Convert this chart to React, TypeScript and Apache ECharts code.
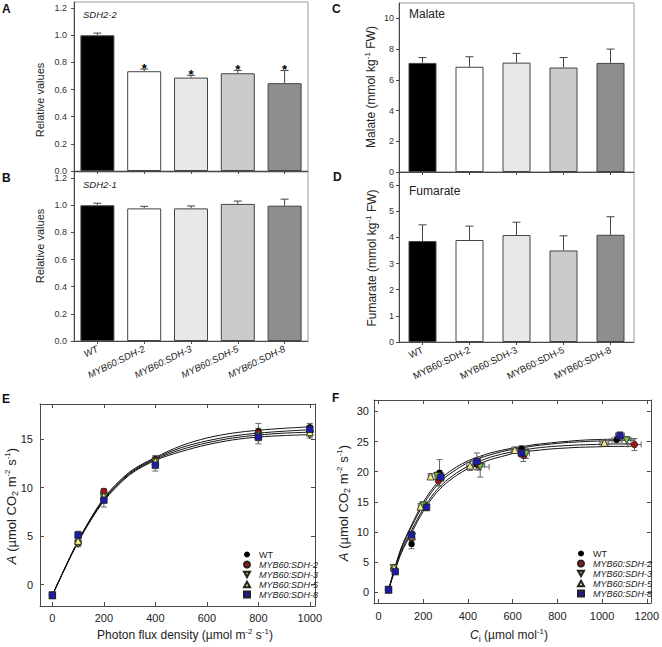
import React, { useEffect, useRef } from "react";
import * as echarts from "echarts";

const FONT = "'Liberation Sans', Arial, Helvetica, sans-serif";

// ---- categories / genotypes ----
const genotypes = ["WT", "MYB60:SDH-2", "MYB60:SDH-3", "MYB60:SDH-5", "MYB60:SDH-8"];
const barColors = ["#000000", "#ffffff", "#e8e8e8", "#cbcbcb", "#8e8e8e"];
const markerColors = ["#000000", "#a31515", "#7dc242", "#f2ee8a", "#1c1ca8"];
const markerSymbols = ["circle", "circle", "path://M0,0L10,0L5,9Z", "path://M5,0L10,9L0,9Z", "rect"];

// ---- panel A: SDH2-2 relative expression ----
const sdh22Values = [1.0, 0.735, 0.688, 0.72, 0.647];
const sdh22Errors = [0.016, 0.016, 0.017, 0.021, 0.094];
const sdh22Signif = [0, 1, 1, 1, 1];
// ---- panel B: SDH2-1 relative expression ----
const sdh21Values = [1.0, 0.977, 0.977, 1.01, 0.997];
const sdh21Errors = [0.015, 0.015, 0.018, 0.021, 0.048];
// ---- panel C: malate ----
const malateValues = [7.1, 6.85, 7.12, 6.8, 7.1];
const malateErrors = [0.35, 0.65, 0.6, 0.65, 0.9];
// ---- panel D: fumarate ----
const fumarateValues = [3.86, 3.9, 4.09, 3.5, 4.1];
const fumarateErrors = [0.62, 0.53, 0.49, 0.56, 0.69];

// tick labels
const relTicks = [0, 0.2, 0.4, 0.6, 0.8, 1.0, 1.2];
const malateTicks = [0, 2, 4, 6, 8, 10];
const fumarateTicks = [0, 1, 2, 3, 4, 5, 6];
const lightXTicks = [0, 200, 400, 600, 800, 1000];
const lightYTicks = [0, 5, 10, 15];
const ciXTicks = [0, 200, 400, 600, 800, 1000, 1200];
const ciYTicks = [0, 5, 10, 15, 20, 25, 30];

// ---- panel E: light response ----
const lightX = [0, 100, 200, 400, 800, 1000];
const lightWT = [-1.1, 4.3, 9.3, 12.9, 15.8, 16.2];
const lightSDH2 = [-1.1, 4.3, 9.6, 12.8, 15.6, 15.8];
const lightSDH3 = [-1.1, 4.2, 9.0, 12.6, 15.3, 15.4];
const lightSDH5 = [-1.1, 4.5, 9.1, 12.7, 15.4, 15.7];
const lightSDH8 = [-1.1, 5.1, 8.7, 12.3, 15.2, 16.0];
const lightErrWT = [0.2, 0.3, 0.5, 0.4, 0.8, 0.4];
const lightErrSDH2 = [0.2, 0.3, 0.3, 0.4, 0.5, 0.4];
const lightErrSDH3 = [0.2, 0.3, 0.4, 0.4, 0.5, 0.3];
const lightErrSDH5 = [0.2, 0.3, 0.4, 0.4, 0.5, 0.4];
const lightErrSDH8 = [0.2, 0.4, 0.7, 0.6, 0.7, 0.4];
// fitted curves
const lightCurveX = [0, 100, 200, 300, 400, 500, 600, 700, 800, 900, 1000];
const lightCurve1 = [-1.1, 4.5, 8.9, 11.6, 13.1, 14.3, 15.1, 15.6, 15.9, 16.1, 16.25];
const lightCurve2 = [-1.1, 4.5, 8.8, 11.5, 13.0, 14.1, 14.8, 15.3, 15.6, 15.8, 15.95];
const lightCurve3 = [-1.1, 4.4, 8.7, 11.4, 12.9, 13.9, 14.6, 15.1, 15.4, 15.6, 15.7];
const lightCurve4 = [-1.1, 4.4, 8.6, 11.3, 12.8, 13.7, 14.4, 14.9, 15.2, 15.35, 15.45];

// ---- panel F: CO2 response (Ci, A) ----
const ciWT = [45, 68, 148, 205, 273, 440, 640, 1065];
const aWT = [0.4, 3.8, 8.0, 14.3, 19.8, 21.2, 23.8, 25.3];
const ciSDH2 = [45, 70, 148, 208, 268, 450, 648, 1145];
const aSDH2 = [0.4, 3.9, 9.0, 14.2, 18.5, 21.1, 22.7, 24.5];
const ciSDH3 = [45, 68, 150, 200, 263, 455, 660, 1110];
const aSDH3 = [0.4, 4.0, 9.2, 14.4, 19.3, 20.8, 23.0, 25.2];
const ciSDH5 = [45, 69, 150, 188, 233, 410, 610, 1010];
const aSDH5 = [0.4, 4.1, 9.3, 14.2, 19.2, 21.0, 23.6, 24.8];
const ciSDH8 = [45, 75, 148, 215, 279, 440, 640, 1080];
const aSDH8 = [0.4, 3.4, 9.5, 14.1, 19.1, 21.7, 23.1, 26.0];
const aErrWT = [0.3, 0.3, 0.8, 0.6, 2.2, 0.8, 0.5, 0.5];
const aErrSDH2 = [0.3, 0.3, 0.5, 0.5, 0.8, 0.8, 1.0, 1.0];
const aErrSDH3 = [0.3, 0.3, 0.5, 0.6, 0.6, 1.7, 0.8, 0.6];
const aErrSDH5 = [0.3, 0.3, 0.5, 0.5, 0.5, 0.8, 0.5, 0.5];
const aErrSDH8 = [0.3, 0.3, 0.6, 0.6, 0.7, 1.4, 0.6, 0.6];
const ciErrWT = [5, 5, 8, 10, 10, 20, 15, 20];
const ciErrSDH2 = [5, 5, 8, 10, 10, 25, 15, 30];
const ciErrSDH3 = [5, 5, 8, 10, 10, 40, 15, 20];
const ciErrSDH5 = [5, 5, 8, 10, 10, 15, 15, 20];
const ciErrSDH8 = [5, 5, 8, 10, 10, 15, 15, 20];
const ciCurveX = [45, 100, 150, 200, 250, 300, 350, 400, 450, 500, 550, 600, 650, 700, 750, 800, 850, 900, 950, 1000, 1050, 1100, 1150];
const ciCurve1 = [0.4, 7.2, 11.3, 14.9, 17.6, 19.5, 20.8, 21.8, 22.5, 23.1, 23.55, 23.9, 24.2, 24.5, 24.7, 24.9, 25.05, 25.2, 25.3, 25.35, 25.4, 25.45, 25.5];
const ciCurve2 = [0.4, 7.0, 11.0, 14.5, 17.2, 19.1, 20.4, 21.5, 22.2, 22.8, 23.3, 23.7, 24.0, 24.3, 24.5, 24.7, 24.85, 24.95, 25.05, 25.1, 25.15, 25.2, 25.25];
const ciCurve3 = [0.4, 6.6, 10.4, 13.8, 16.5, 18.4, 19.8, 20.9, 21.7, 22.4, 22.9, 23.3, 23.6, 23.9, 24.1, 24.25, 24.35, 24.45, 24.5, 24.55, 24.6, 24.6, 24.65];
const ciCurve4 = [0.4, 6.3, 10.0, 13.4, 16.1, 18.0, 19.4, 20.5, 21.3, 22.0, 22.5, 23.0, 23.3, 23.5, 23.7, 23.85, 23.95, 24.05, 24.1, 24.15, 24.2, 24.2, 24.25];

const AXIS = "#4a4a4a";

function ln(x1: number, y1: number, x2: number, y2: number, color = "#333") {
  return { type: "line", shape: { x1, y1, x2, y2 }, style: { stroke: color, lineWidth: 1 } };
}

const barErrRender = (_p: any, api: any) => {
  const idx = api.value(0);
  const v = api.value(1);
  const e = api.value(2);
  const sig = api.value(3);
  const base = api.coord([idx, v]);
  const top = api.coord([idx, v + e]);
  const children: any[] = [
    ln(base[0], base[1], top[0], top[1], "#444"),
    ln(top[0] - 4, top[1], top[0] + 4, top[1], "#444"),
  ];
  if (sig) {
    children.push({
      type: "text",
      x: top[0],
      y: top[1] + 6,
      style: { text: "*", fontSize: 13, fontWeight: "bold", fontFamily: FONT, fill: "#000", align: "center", verticalAlign: "bottom" },
    });
  }
  return { type: "group", children };
};

const pointErrRender = (_p: any, api: any) => {
  const x = api.value(0);
  const y = api.value(1);
  const ey = api.value(2);
  const ex = api.value(3);
  const c = api.coord([x, y]);
  const col = "#666";
  const children: any[] = [];
  if (ey > 0) {
    const t = api.coord([x, y + ey]);
    const b = api.coord([x, y - ey]);
    children.push(ln(c[0], t[1], c[0], b[1], col), ln(c[0] - 3, t[1], c[0] + 3, t[1], col), ln(c[0] - 3, b[1], c[0] + 3, b[1], col));
  }
  if (ex > 0) {
    const l = api.coord([x - ex, y]);
    const r = api.coord([x + ex, y]);
    children.push(ln(l[0], c[1], r[0], c[1], col), ln(l[0], c[1] - 3, l[0], c[1] + 3, col), ln(r[0], c[1] - 3, r[0], c[1] + 3, col));
  }
  return { type: "group", children };
};

function catAxis(gridIndex: number, showLabels: boolean, italic: boolean) {
  return {
    type: "category",
    gridIndex,
    data: genotypes,
    boundaryGap: true,
    axisLine: { show: true, onZero: false, lineStyle: { color: AXIS, width: 1 } },
    axisTick: { show: true, alignWithLabel: true, length: 3, lineStyle: { color: AXIS } },
    axisLabel: {
      show: showLabels,
      rotate: 26,
      interval: 0,
      fontSize: 9.5,
      fontFamily: FONT,
      color: "#222",
      fontStyle: italic ? "italic" : "normal",
      margin: 7,
    },
    splitLine: { show: false },
  };
}

function barValAxis(gridIndex: number, max: number, ticks: number[], digits: number, margin: number) {
  return {
    type: "value",
    gridIndex,
    min: 0,
    max,
    axisLine: { show: true, onZero: false, lineStyle: { color: AXIS } },
    axisTick: { show: true, length: 3, customValues: ticks, lineStyle: { color: AXIS } },
    axisLabel: {
      customValues: ticks,
      formatter: (v: number) => Number(v).toFixed(digits),
      fontSize: 9,
      color: "#333",
      fontFamily: FONT,
      margin,
    },
    splitLine: { show: false },
  };
}

function frameAxis(gridIndex: number, position: string, min: number, max: number, ticks: number[], showLabel: boolean, margin: number) {
  return {
    type: "value",
    gridIndex,
    position,
    min,
    max,
    axisLine: { show: true, onZero: false, lineStyle: { color: AXIS, width: 1 } },
    axisTick: { show: true, inside: true, length: 4, customValues: ticks, lineStyle: { color: AXIS } },
    axisLabel: {
      show: showLabel,
      customValues: ticks,
      formatter: (v: number) => String(v),
      fontSize: 11,
      color: "#222",
      fontFamily: FONT,
      margin,
    },
    splitLine: { show: false },
  };
}

function barSeries(xi: number, values: number[], width: number) {
  return {
    type: "bar",
    xAxisIndex: xi,
    yAxisIndex: xi,
    barWidth: width,
    silent: true,
    data: values.map((v, i) => ({ value: v, itemStyle: { color: barColors[i] } })),
    itemStyle: { borderColor: "#444", borderWidth: 1 },
    z: 2,
  };
}

function barErrSeries(xi: number, values: number[], errs: number[], sig?: number[]) {
  return {
    type: "custom",
    xAxisIndex: xi,
    yAxisIndex: xi,
    renderItem: barErrRender,
    encode: { x: 0, y: 1 },
    data: values.map((v, i) => [i, v, errs[i], sig ? sig[i] : 0]),
    z: 5,
    silent: true,
    clip: false,
  };
}

function scatterSeries(idx: number, axis: number, xs: number[], ys: number[]) {
  return {
    type: "scatter",
    name: genotypes[idx],
    xAxisIndex: axis,
    yAxisIndex: axis,
    symbol: markerSymbols[idx],
    symbolSize: idx === 2 || idx === 3 ? 7 : 6.5,
    itemStyle: { color: markerColors[idx], borderColor: "#222", borderWidth: idx === 0 ? 0 : 0.8, opacity: 1 },
    data: xs.map((x, i) => [x, ys[i]]),
    z: 10 + idx,
    silent: true,
  };
}

function pointErrSeries(axis: number, xs: number[], ys: number[], ey: number[], ex: number[] | null) {
  return {
    type: "custom",
    xAxisIndex: axis,
    yAxisIndex: axis,
    renderItem: pointErrRender,
    encode: { x: 0, y: 1 },
    data: xs.map((x, i) => [x, ys[i], ey[i], ex ? ex[i] : 0]),
    z: 6,
    silent: true,
  };
}

function curveSeries(axis: number, xs: number[], ys: number[]) {
  return {
    type: "line",
    xAxisIndex: axis,
    yAxisIndex: axis,
    data: xs.map((x, i) => [x, ys[i]]),
    smooth: 0.3,
    symbol: "none",
    lineStyle: { color: "#111", width: 1 },
    z: 4,
    silent: true,
  };
}

const richBase = {
  n: { fontSize: 12, lineHeight: 16, fontFamily: FONT, fill: "#222" },
  it: { fontSize: 12, lineHeight: 16, fontFamily: FONT, fontStyle: "italic", fill: "#222" },
  sp: { fontSize: 8, lineHeight: 8, fontFamily: FONT, verticalAlign: "top", fill: "#222" },
  sb: { fontSize: 9, lineHeight: 9, fontFamily: FONT, verticalAlign: "bottom", fill: "#222" },
};

function titleText(x: number, y: number, text: string, vertical: boolean, size = 12) {
  const rich: any = {};
  Object.keys(richBase).forEach((k) => {
    const s: any = { ...(richBase as any)[k] };
    if (k === "n" || k === "it") {
      s.fontSize = size;
    }
    rich[k] = s;
  });
  return {
    type: "text",
    x,
    y,
    rotation: vertical ? Math.PI / 2 : 0,
    style: { text, rich, align: "center", verticalAlign: "middle", fontFamily: FONT },
    silent: true,
  };
}

function plainText(x: number, y: number, text: string, size: number, opts: any = {}) {
  return {
    type: "text",
    x,
    y,
    style: { text, fontSize: size, fontFamily: FONT, fill: "#111", align: "left", verticalAlign: "middle", ...opts },
    silent: true,
  };
}

function legendCfg(left: number, top: number) {
  return {
    data: genotypes.map((n, i) => ({ name: n, icon: markerSymbols[i] })),
    orient: "vertical",
    left,
    top,
    itemWidth: 6,
    itemHeight: 6,
    itemGap: 1,
    selectedMode: false,
    formatter: (n: string) => (n === "WT" ? n : `{it|${n}}`),
    textStyle: {
      fontSize: 9,
      lineHeight: 9,
      fontFamily: FONT,
      color: "#222",
      padding: [0, 0, 0, 4],
      rich: { it: { fontStyle: "italic", fontSize: 9, lineHeight: 9, fontFamily: FONT, color: "#222" } },
    },
  };
}

function buildOption(): any {
  const gridStyle = { show: true, borderColor: "#9a9a9a", borderWidth: 1, backgroundColor: "transparent" };
  const lightSets = [
    [lightWT, lightErrWT],
    [lightSDH2, lightErrSDH2],
    [lightSDH3, lightErrSDH3],
    [lightSDH5, lightErrSDH5],
    [lightSDH8, lightErrSDH8],
  ];
  const ciSets = [
    [ciWT, aWT, aErrWT, ciErrWT],
    [ciSDH2, aSDH2, aErrSDH2, ciErrSDH2],
    [ciSDH3, aSDH3, aErrSDH3, ciErrSDH3],
    [ciSDH5, aSDH5, aErrSDH5, ciErrSDH5],
    [ciSDH8, aSDH8, aErrSDH8, ciErrSDH8],
  ];
  const series: any[] = [
    barSeries(0, sdh22Values, 34),
    barErrSeries(0, sdh22Values, sdh22Errors, sdh22Signif),
    barSeries(1, sdh21Values, 34),
    barErrSeries(1, sdh21Values, sdh21Errors),
    barSeries(2, malateValues, 28),
    barErrSeries(2, malateValues, malateErrors),
    barSeries(3, fumarateValues, 28),
    barErrSeries(3, fumarateValues, fumarateErrors),
    curveSeries(4, lightCurveX, lightCurve1),
    curveSeries(4, lightCurveX, lightCurve2),
    curveSeries(4, lightCurveX, lightCurve3),
    curveSeries(4, lightCurveX, lightCurve4),
    curveSeries(6, ciCurveX, ciCurve1),
    curveSeries(6, ciCurveX, ciCurve2),
    curveSeries(6, ciCurveX, ciCurve3),
    curveSeries(6, ciCurveX, ciCurve4),
  ];
  lightSets.forEach((s) => {
    series.push(pointErrSeries(4, lightX, s[0], s[1], null));
  });
  ciSets.forEach((s) => {
    series.push(pointErrSeries(6, s[0], s[1], s[2], s[3]));
  });
  lightSets.forEach((s, i) => {
    series.push(scatterSeries(i, 4, lightX, s[0]));
  });
  ciSets.forEach((s, i) => {
    series.push(scatterSeries(i, 6, s[0], s[1]));
  });

  return {
    animation: false,
    backgroundColor: "#ffffff",
    textStyle: { fontFamily: FONT },
    grid: [
      { left: 74, top: 2, width: 234, height: 169, ...gridStyle },
      { left: 74, top: 172, width: 234, height: 169, ...gridStyle },
      { left: 399, top: 3, width: 235, height: 169, ...gridStyle },
      { left: 399, top: 172, width: 235, height: 170, ...gridStyle },
      { left: 40, top: 404, width: 275, height: 202, show: false },
      { left: 374, top: 400, width: 281, height: 203, show: false },
    ],
    xAxis: [
      catAxis(0, false, true),
      catAxis(1, true, true),
      catAxis(2, false, false),
      catAxis(3, true, false),
      frameAxis(4, "bottom", -48, 1020, lightXTicks, true, 6),
      frameAxis(4, "top", -48, 1020, lightXTicks, false, 6),
      frameAxis(5, "bottom", -20, 1218, ciXTicks, true, 7),
      frameAxis(5, "top", -20, 1218, ciXTicks, false, 7),
    ],
    yAxis: [
      barValAxis(0, 1.245, relTicks, 1, 7),
      barValAxis(1, 1.245, relTicks, 1, 7),
      barValAxis(2, 11, malateTicks, 0, 5),
      barValAxis(3, 6.5, fumarateTicks, 0, 5),
      frameAxis(4, "left", -2.2, 18.6, lightYTicks, true, 7),
      frameAxis(4, "right", -2.2, 18.6, lightYTicks, false, 7),
      frameAxis(5, "left", -1.8, 31.9, ciYTicks, true, 5),
      frameAxis(5, "right", -1.8, 31.9, ciYTicks, false, 5),
    ],
    legend: [legendCfg(238, 545), legendCfg(572, 544)],
    series,
    graphic: [
      plainText(2, 9, "A", 12, { fontWeight: "bold" }),
      plainText(2, 178, "B", 12, { fontWeight: "bold" }),
      plainText(332, 9, "C", 12, { fontWeight: "bold" }),
      plainText(333, 177, "D", 12, { fontWeight: "bold" }),
      plainText(2, 399, "E", 12, { fontWeight: "bold" }),
      plainText(332, 398, "F", 12, { fontWeight: "bold" }),
      plainText(83, 14, "SDH2-2", 9.5, { fontStyle: "italic", fill: "#222" }),
      plainText(83, 184, "SDH2-1", 9.5, { fontStyle: "italic", fill: "#222" }),
      plainText(409, 14, "Malate", 12, { fill: "#222" }),
      plainText(409, 191, "Fumarate", 12, { fill: "#222" }),
      titleText(40, 100, "{n|Relative values}", true, 11),
      titleText(40, 246, "{n|Relative values}", true, 11),
      titleText(371, 87, "{n|Malate (mmol kg}{sp|-1}{n| FW)}", true, 12),
      titleText(372, 258, "{n|Fumarate (mmol kg}{sp|-1}{n| FW)}", true, 12),
      titleText(11, 506, "{it|A}{n| (µmol CO}{sb|2}{n| m}{sp|-2}{n| s}{sp|-1}{n|)}", true, 13),
      titleText(343, 503, "{it|A}{n| (µmol CO}{sb|2}{n| m}{sp|-2}{n| s}{sp|-1}{n|)}", true, 13),
      titleText(185, 635, "{n|Photon flux density (µmol m}{sp|-2}{n| s}{sp|-1}{n|)}", false, 12),
      titleText(509, 635, "{it|C}{sb|i}{n| (µmol mol}{sp|-1}{n|)}", false, 12),
    ],
  };
}

export default function App() {
  const ref = useRef<HTMLDivElement>(null);
  useEffect(() => {
    if (!ref.current) return;
    const chart = echarts.init(ref.current, undefined, { renderer: "svg" });
    chart.setOption(buildOption());
    return () => {
      chart.dispose();
    };
  }, []);
  return (
    <div
      ref={ref}
      style={{ position: "absolute", left: 0, top: 0, width: 662, height: 647, background: "#ffffff" }}
    />
  );
}
